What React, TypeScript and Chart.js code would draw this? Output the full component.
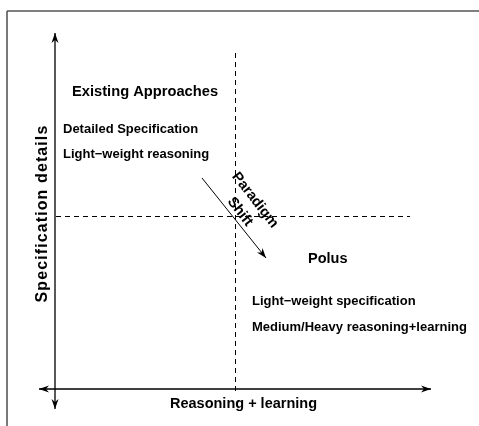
import React, { useEffect, useRef } from "react";
import { Chart, registerables } from "chart.js";

Chart.register(...registerables);

// Diagram coordinate space
const X_RANGE = [0, 479];
const Y_RANGE = [0, 426];

// Lines of the concept diagram
const frameTop = [{ x: 7, y: 11 }, { x: 479, y: 11 }];
const frameLeft = [{ x: 7, y: 11 }, { x: 7, y: 426 }];
const verticalAxis = [{ x: 55, y: 33 }, { x: 55, y: 409 }];
const horizontalAxis = [{ x: 39, y: 389 }, { x: 431, y: 389 }];
const verticalDivider = [{ x: 235.5, y: 53 }, { x: 235.5, y: 394 }];
const horizontalDivider = [{ x: 56, y: 216.5 }, { x: 410, y: 216.5 }];
const shiftArrow = [{ x: 202, y: 178 }, { x: 266, y: 258 }];

// Text labels
const labelTexts = [
  "Existing Approaches",
  "Detailed Specification",
  "Light−weight reasoning",
  "Polus",
  "Light−weight specification",
  "Medium/Heavy reasoning+learning",
];
const labelX = [72, 63, 63, 308, 252, 252];
const labelY = [96, 133, 158, 263, 305, 331];
const labelSize = [14.7, 13, 13, 14.5, 13, 13];

const xTitle = "Reasoning + learning";
const yTitle = "Specification details";
const shiftLines = ["Paradigm", "Shift"];

const FONT = "'Liberation Sans', Arial, Helvetica, sans-serif";

function arrowHead(ctx: CanvasRenderingContext2D, fx: number, fy: number, tx: number, ty: number, len = 10, half = 3.5) {
  const ang = Math.atan2(ty - fy, tx - fx);
  ctx.save();
  ctx.translate(tx, ty);
  ctx.rotate(ang);
  ctx.beginPath();
  ctx.moveTo(0, 0);
  ctx.lineTo(-len, -half);
  ctx.lineTo(-len * 0.7, 0);
  ctx.lineTo(-len, half);
  ctx.closePath();
  ctx.fillStyle = "#000";
  ctx.fill();
  ctx.restore();
}

const diagramPlugin = {
  id: "diagram",
  afterDatasetsDraw(chart: any) {
    const ctx: CanvasRenderingContext2D = chart.ctx;
    const xs = chart.scales.x;
    const ys = chart.scales.y;
    const px = (v: number) => xs.getPixelForValue(v);
    const py = (v: number) => ys.getPixelForValue(v);

    // arrowheads
    const head = (a: { x: number; y: number }, b: { x: number; y: number }) =>
      arrowHead(ctx, px(a.x), py(a.y), px(b.x), py(b.y));
    head(verticalAxis[1], verticalAxis[0]);
    head(verticalAxis[0], verticalAxis[1]);
    head(horizontalAxis[1], horizontalAxis[0]);
    head(horizontalAxis[0], horizontalAxis[1]);
    head(shiftArrow[0], shiftArrow[1]);

    ctx.save();
    ctx.fillStyle = "#000";
    ctx.textBaseline = "alphabetic";
    ctx.textAlign = "left";
    labelTexts.forEach((t, i) => {
      ctx.font = `bold ${labelSize[i]}px ${FONT}`;
      ctx.fillText(t, px(labelX[i]), py(labelY[i]));
    });

    // x title
    ctx.textAlign = "center";
    ctx.font = `bold 14.5px ${FONT}`;
    ctx.fillText(xTitle, px(243.5), py(408));

    // y title (rotated)
    ctx.save();
    ctx.translate(px(47), py(213.5));
    ctx.rotate(-Math.PI / 2);
    ctx.font = `bold 16px ${FONT}`;
    (ctx as any).letterSpacing = "1.1px";
    ctx.textAlign = "center";
    ctx.fillText(yTitle, 0, 0);
    ctx.restore();

    // Paradigm shift (rotated)
    ctx.save();
    ctx.translate(px(247.5), py(206));
    ctx.rotate((52 * Math.PI) / 180);
    ctx.font = `bold 14.5px ${FONT}`;
    ctx.textAlign = "center";
    ctx.textBaseline = "middle";
    ctx.fillText(shiftLines[0], 0, -9.5);
    ctx.fillText(shiftLines[1], 0, 9.5);
    ctx.restore();

    ctx.restore();
  },
};

export default function App() {
  const ref = useRef<HTMLCanvasElement | null>(null);

  useEffect(() => {
    if (!ref.current) return;
    const line = (data: any[], color: string, width: number, dash: number[] = []) => ({
      data,
      showLine: true,
      borderColor: color,
      borderWidth: width,
      borderDash: dash,
      pointRadius: 0,
      fill: false,
    });
    const chart = new Chart(ref.current, {
      type: "scatter",
      data: {
        datasets: [
          line(frameTop, "#555", 1.6),
          line(frameLeft, "#222", 1.2),
          line(verticalAxis, "#000", 1.3),
          line(horizontalAxis, "#000", 1.3),
          line(verticalDivider, "#000", 1, [5, 4]),
          line(horizontalDivider, "#000", 1, [5, 4]),
          line(shiftArrow, "#000", 1),
        ] as any,
      },
      options: {
        responsive: false,
        animation: false,
        layout: { padding: 0 },
        plugins: { legend: { display: false }, tooltip: { enabled: false } },
        scales: {
          x: { type: "linear", display: false, min: X_RANGE[0], max: X_RANGE[1] },
          y: { type: "linear", display: false, min: Y_RANGE[0], max: Y_RANGE[1], reverse: true },
        },
      },
      plugins: [diagramPlugin],
    });
    return () => chart.destroy();
  }, []);

  return (
    <div style={{ position: "absolute", left: 0, top: 0, width: 479, height: 426, background: "#fff" }}>
      <canvas ref={ref} width={479} height={426} />
    </div>
  );
}
